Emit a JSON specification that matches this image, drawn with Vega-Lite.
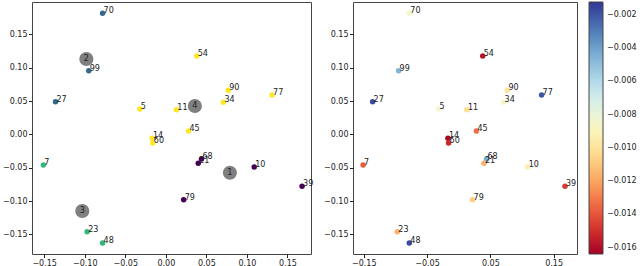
{
  "$schema": "https://vega.github.io/schema/vega-lite/v6.json",
  "padding": {"left": 1, "top": 1, "right": 0, "bottom": 0},
  "background": "white",
  "config": {
    "view": {"stroke": "#444", "strokeWidth": 1},
    "axis": {"grid": false, "domain": false, "title": null, "labelFont": "DejaVu Sans", "labelFontSize": 8, "labelColor": "#222", "tickColor": "#222", "tickSize": 3.5, "labelPadding": 1.5, "labelFlush": false},
    "legend": {"labelFont": "DejaVu Sans", "labelFontSize": 8, "labelColor": "#222"}
  },
  "datasets": {
    "pts": [
      {"id": "70", "x": -0.078, "y": 0.1815, "cluster": "2", "value": -0.0085},
      {"id": "99", "x": -0.095, "y": 0.0955, "cluster": "2", "value": -0.0046},
      {"id": "27", "x": -0.136, "y": 0.049, "cluster": "2", "value": -0.0017},
      {"id": "5", "x": -0.032, "y": 0.038, "cluster": "4", "value": -0.0083},
      {"id": "11", "x": 0.013, "y": 0.037, "cluster": "4", "value": -0.0103},
      {"id": "45", "x": 0.028, "y": 0.005, "cluster": "4", "value": -0.0134},
      {"id": "14", "x": -0.017, "y": -0.006, "cluster": "4", "value": -0.0162},
      {"id": "60", "x": -0.016, "y": -0.013, "cluster": "4", "value": -0.0152},
      {"id": "54", "x": 0.038, "y": 0.1175, "cluster": "4", "value": -0.0158},
      {"id": "90", "x": 0.077, "y": 0.066, "cluster": "4", "value": -0.0099},
      {"id": "34", "x": 0.071, "y": 0.048, "cluster": "4", "value": -0.0086},
      {"id": "77", "x": 0.131, "y": 0.059, "cluster": "4", "value": -0.002},
      {"id": "7", "x": -0.151, "y": -0.046, "cluster": "3", "value": -0.0138},
      {"id": "23", "x": -0.097, "y": -0.146, "cluster": "3", "value": -0.0117},
      {"id": "48", "x": -0.078, "y": -0.163, "cluster": "3", "value": -0.0017},
      {"id": "68", "x": 0.044, "y": -0.037, "cluster": "1", "value": -0.0044},
      {"id": "21", "x": 0.04, "y": -0.0435, "cluster": "1", "value": -0.0117},
      {"id": "10", "x": 0.109, "y": -0.049, "cluster": "1", "value": -0.0093},
      {"id": "39", "x": 0.168, "y": -0.078, "cluster": "1", "value": -0.0146},
      {"id": "79", "x": 0.022, "y": -0.098, "cluster": "1", "value": -0.0108}
    ],
    "centers": [
      {"id": "1", "x": 0.079, "y": -0.0576},
      {"id": "2", "x": -0.098, "y": 0.113},
      {"id": "3", "x": -0.103, "y": -0.115},
      {"id": "4", "x": 0.0358, "y": 0.0425}
    ]
  },
  "spacing": 8,
  "resolve": {"scale": {"color": "independent", "x": "independent"}},
  "hconcat": [
    {
      "width": 279,
      "height": 252,
      "layer": [
        {
          "data": {"name": "pts"},
          "mark": {"type": "circle", "size": 30, "opacity": 1},
          "encoding": {
            "x": {"field": "x", "type": "quantitative", "scale": {"domain": [-0.165, 0.179], "nice": false, "zero": false}, "axis": {"values": [-0.15, -0.1, -0.05, 0, 0.05, 0.1, 0.15], "format": ".2f"}},
            "y": {"field": "y", "type": "quantitative", "scale": {"domain": [-0.1795, 0.1985], "nice": false, "zero": false}, "axis": {"values": [-0.15, -0.1, -0.05, 0, 0.05, 0.1, 0.15], "format": ".2f"}},
            "color": {"field": "cluster", "type": "nominal", "scale": {"domain": ["1", "2", "3", "4"], "range": ["#440154", "#31688e", "#35b779", "#fde725"]}, "legend": null}
          }
        },
        {
          "data": {"name": "pts"},
          "mark": {"type": "text", "align": "left", "baseline": "alphabetic", "dx": 1, "dy": 0, "font": "DejaVu Sans", "fontSize": 8, "color": "#222"},
          "encoding": {
            "x": {"field": "x", "type": "quantitative"},
            "y": {"field": "y", "type": "quantitative"},
            "text": {"field": "id"}
          }
        },
        {
          "data": {"name": "centers"},
          "mark": {"type": "circle", "size": 200, "color": "#808080", "opacity": 1},
          "encoding": {
            "x": {"field": "x", "type": "quantitative"},
            "y": {"field": "y", "type": "quantitative"}
          }
        },
        {
          "data": {"name": "centers"},
          "mark": {"type": "text", "align": "center", "baseline": "middle", "font": "DejaVu Sans", "fontSize": 8, "color": "#222"},
          "encoding": {
            "x": {"field": "x", "type": "quantitative"},
            "y": {"field": "y", "type": "quantitative"},
            "text": {"field": "id"}
          }
        }
      ]
    },
    {
      "width": 224,
      "height": 252,
      "layer": [
        {
          "data": {"name": "pts"},
          "mark": {"type": "circle", "size": 30, "opacity": 1},
          "encoding": {
            "x": {"field": "x", "type": "quantitative", "scale": {"domain": [-0.167, 0.187], "nice": false, "zero": false}, "axis": {"values": [-0.15, -0.1, -0.05, 0, 0.05, 0.1, 0.15], "format": ".2f"}},
            "y": {"field": "y", "type": "quantitative", "scale": {"domain": [-0.1795, 0.1985], "nice": false, "zero": false}, "axis": {"values": [-0.15, -0.1, -0.05, 0, 0.05, 0.1, 0.15], "format": ".2f"}},
            "color": {"field": "value", "type": "quantitative", "scale": {"scheme": "redyellowblue", "domain": [-0.01638, -0.00122], "nice": false, "zero": false}, "legend": {"title": null, "type": "gradient", "direction": "vertical", "gradientLength": 252, "gradientThickness": 14, "offset": 12, "padding": 0, "labelOffset": 4, "values": [-0.016, -0.014, -0.012, -0.01, -0.008, -0.006, -0.004, -0.002], "format": ".3f", "gradientStrokeColor": "#444", "gradientStrokeWidth": 1}}
          }
        },
        {
          "data": {"name": "pts"},
          "mark": {"type": "text", "align": "left", "baseline": "alphabetic", "dx": 1, "dy": 0, "font": "DejaVu Sans", "fontSize": 8, "color": "#222"},
          "encoding": {
            "x": {"field": "x", "type": "quantitative"},
            "y": {"field": "y", "type": "quantitative"},
            "text": {"field": "id"}
          }
        }
      ]
    }
  ]
}
